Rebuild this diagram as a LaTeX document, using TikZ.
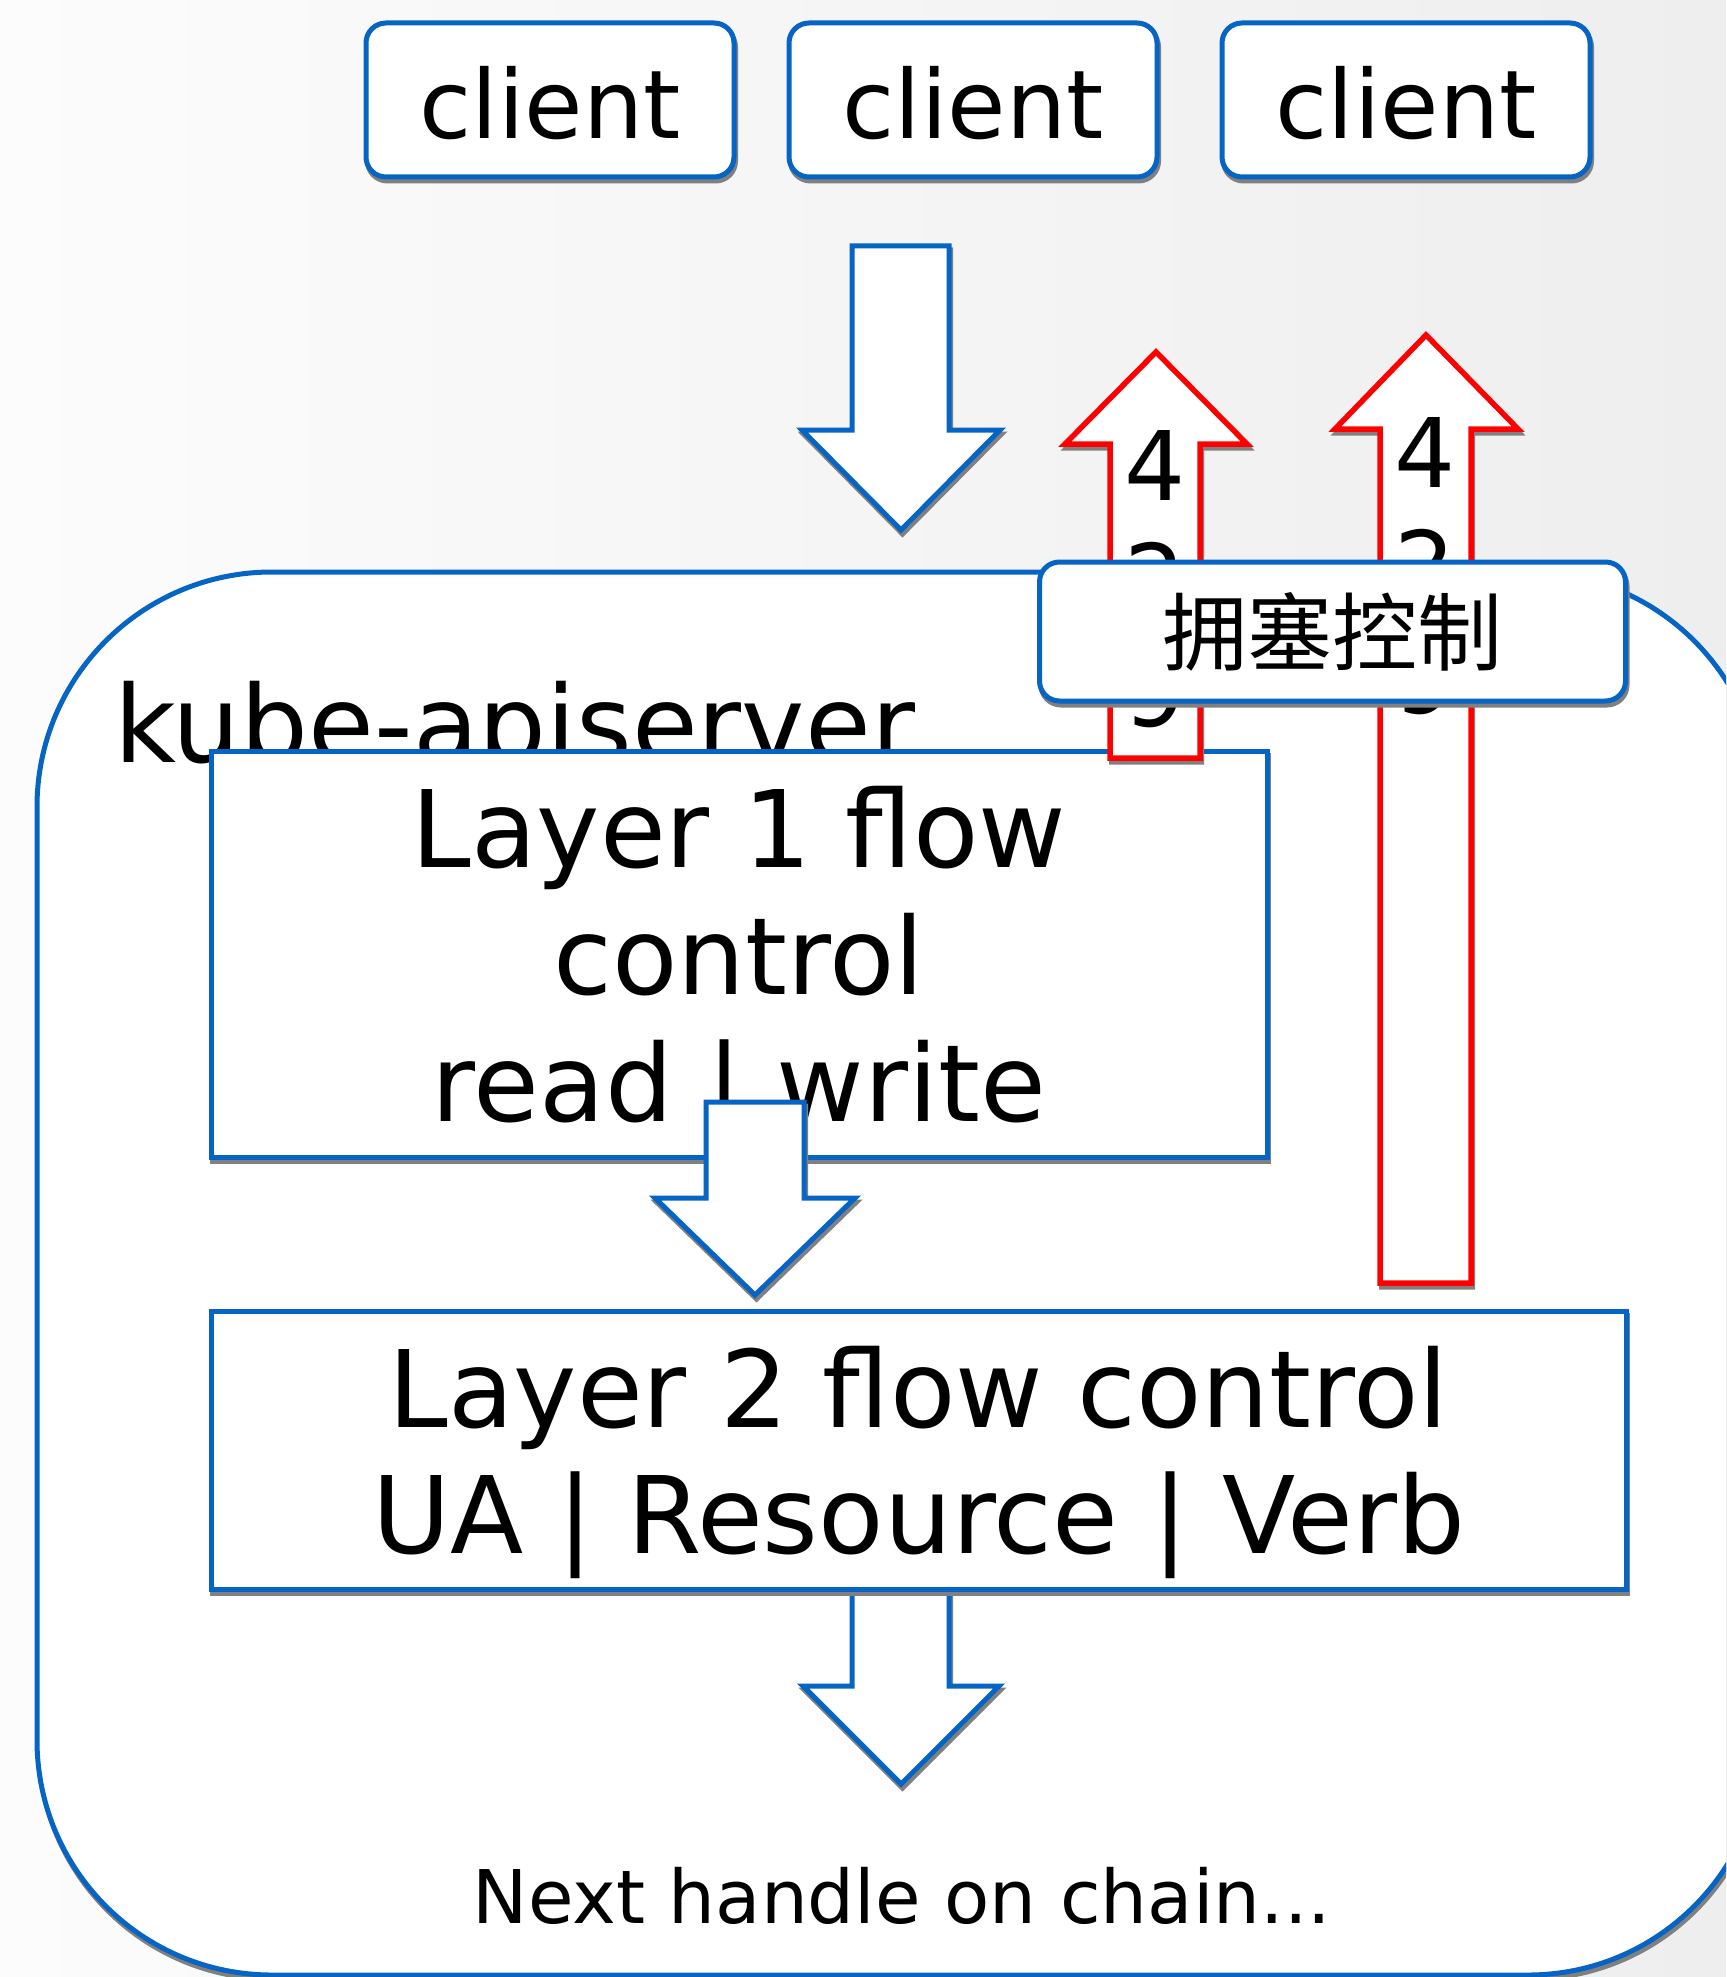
\documentclass[tikz,border=0pt]{standalone}
\usepackage{fontspec}
\setmainfont{DejaVu Sans}
\newfontfamily\cjk{Noto Sans CJK SC}
\usetikzlibrary{shadows}
\definecolor{bblue}{RGB}{6,100,196}
\definecolor{rred}{RGB}{255,0,0}
\definecolor{shgray}{RGB}{128,128,128}
\definecolor{bgl}{RGB}{252,252,252}
\definecolor{bgr}{RGB}{238,238,238}
\begin{document}
\begin{tikzpicture}[x=1pt,y=-1pt,
  shd/.style={drop shadow={shadow xshift=1.5pt,shadow yshift=-4pt,fill=shgray,draw=shgray,line width=5pt,opacity=1}},
  bluebox/.style={shd,draw=bblue,line width=5pt,fill=white,inner sep=0pt},
  redarrow/.style={shd,draw=rred,line width=5.5pt,fill=white,line join=miter},
  bluearrow/.style={shd,draw=bblue,line width=5pt,fill=white,line join=miter},
  clientbox/.style={bluebox,rounded corners=20pt,minimum width=368pt,minimum height=154pt},
  txt/.style={inner sep=0pt,align=center},
  digit/.style={inner sep=0pt,anchor=base,font=\fontsize{96}{113}\selectfont}]
\useasboundingbox (0,0) rectangle (1726,1977);
\clip (0,0) rectangle (1726,1977);
\shade[left color=bgl,right color=bgr] (0,0) rectangle (1726,1977);

% clients
\node[clientbox] (c1) at (550,100) {};
\node[clientbox] (c2) at (973,100) {};
\node[clientbox] (c3) at (1406,100) {};
\foreach \c in {c1,c2,c3}
  \node[txt,font=\fontsize{95}{111}\selectfont] (\c t) at ([yshift=-3pt]\c.center) {client};

% top arrow
\draw[bluearrow] (852,246) -- (949,246) -- (949,430) -- (1000,430) -- (901,530) -- (802,430) -- (852,430) -- cycle;

% big box
\node[bluebox,rounded corners=235pt,minimum width=1726pt,minimum height=1403pt] (api) at (900,1273.5) {};
\node[inner sep=0pt,anchor=base west,font=\fontsize{107}{126}\selectfont] (apitext) at (114,762) {kube-apiserver};

% layer 1
\node[bluebox,minimum width=1056pt,minimum height=406pt] (l1) at (739,954) {};
\node[txt,font=\fontsize{107}{127}\selectfont] (l1t) at ([yshift=-12pt]l1.center) {Layer 1 flow\\control\\read | write};

% red arrows
\draw[redarrow] (1110,758) -- (1110,444) -- (1065,444) -- (1156,352) -- (1247,444) -- (1200,444) -- (1200,758) -- cycle;
\node[digit] (a4) at (1155,500) {4};
\node[digit] (a2) at (1155,613) {2};
\node[digit] (a9) at (1155,726) {9};
\draw[redarrow] (1380,1283) -- (1380,429) -- (1335,429) -- (1426,335) -- (1518,429) -- (1471,429) -- (1471,1283) -- cycle;
\node[digit] (b4) at (1425.5,487) {4};
\node[digit] (b2) at (1425.5,600) {2};
\node[digit] (b9) at (1425.5,713) {9};

% congestion control
\node[bluebox,rounded corners=20pt,minimum width=586pt,minimum height=139pt,font=\cjk\fontsize{85}{100}\selectfont] (cc) at (1332.5,631.5) {拥塞控制};

% arrow between layers
\draw[bluearrow] (706,1102) -- (804,1102) -- (804,1198) -- (855,1198) -- (755,1295) -- (655,1198) -- (706,1198) -- cycle;

% bottom arrow
\draw[bluearrow] (852,1580) -- (949,1580) -- (949,1686) -- (999,1686) -- (901,1784) -- (803,1686) -- (852,1686) -- cycle;

% layer 2
\node[bluebox,minimum width=1415pt,minimum height=278pt] (l2) at (918.5,1450) {};
\node[txt,font=\fontsize{107}{126}\selectfont] (l2t) at ([yshift=-12pt]l2.center) {Layer 2 flow control\\UA | Resource | Verb};

\node[inner sep=0pt,anchor=base,font=\fontsize{74}{88}\selectfont] (next) at (902,1923) {Next handle on chain...};
\end{tikzpicture}
\end{document}
